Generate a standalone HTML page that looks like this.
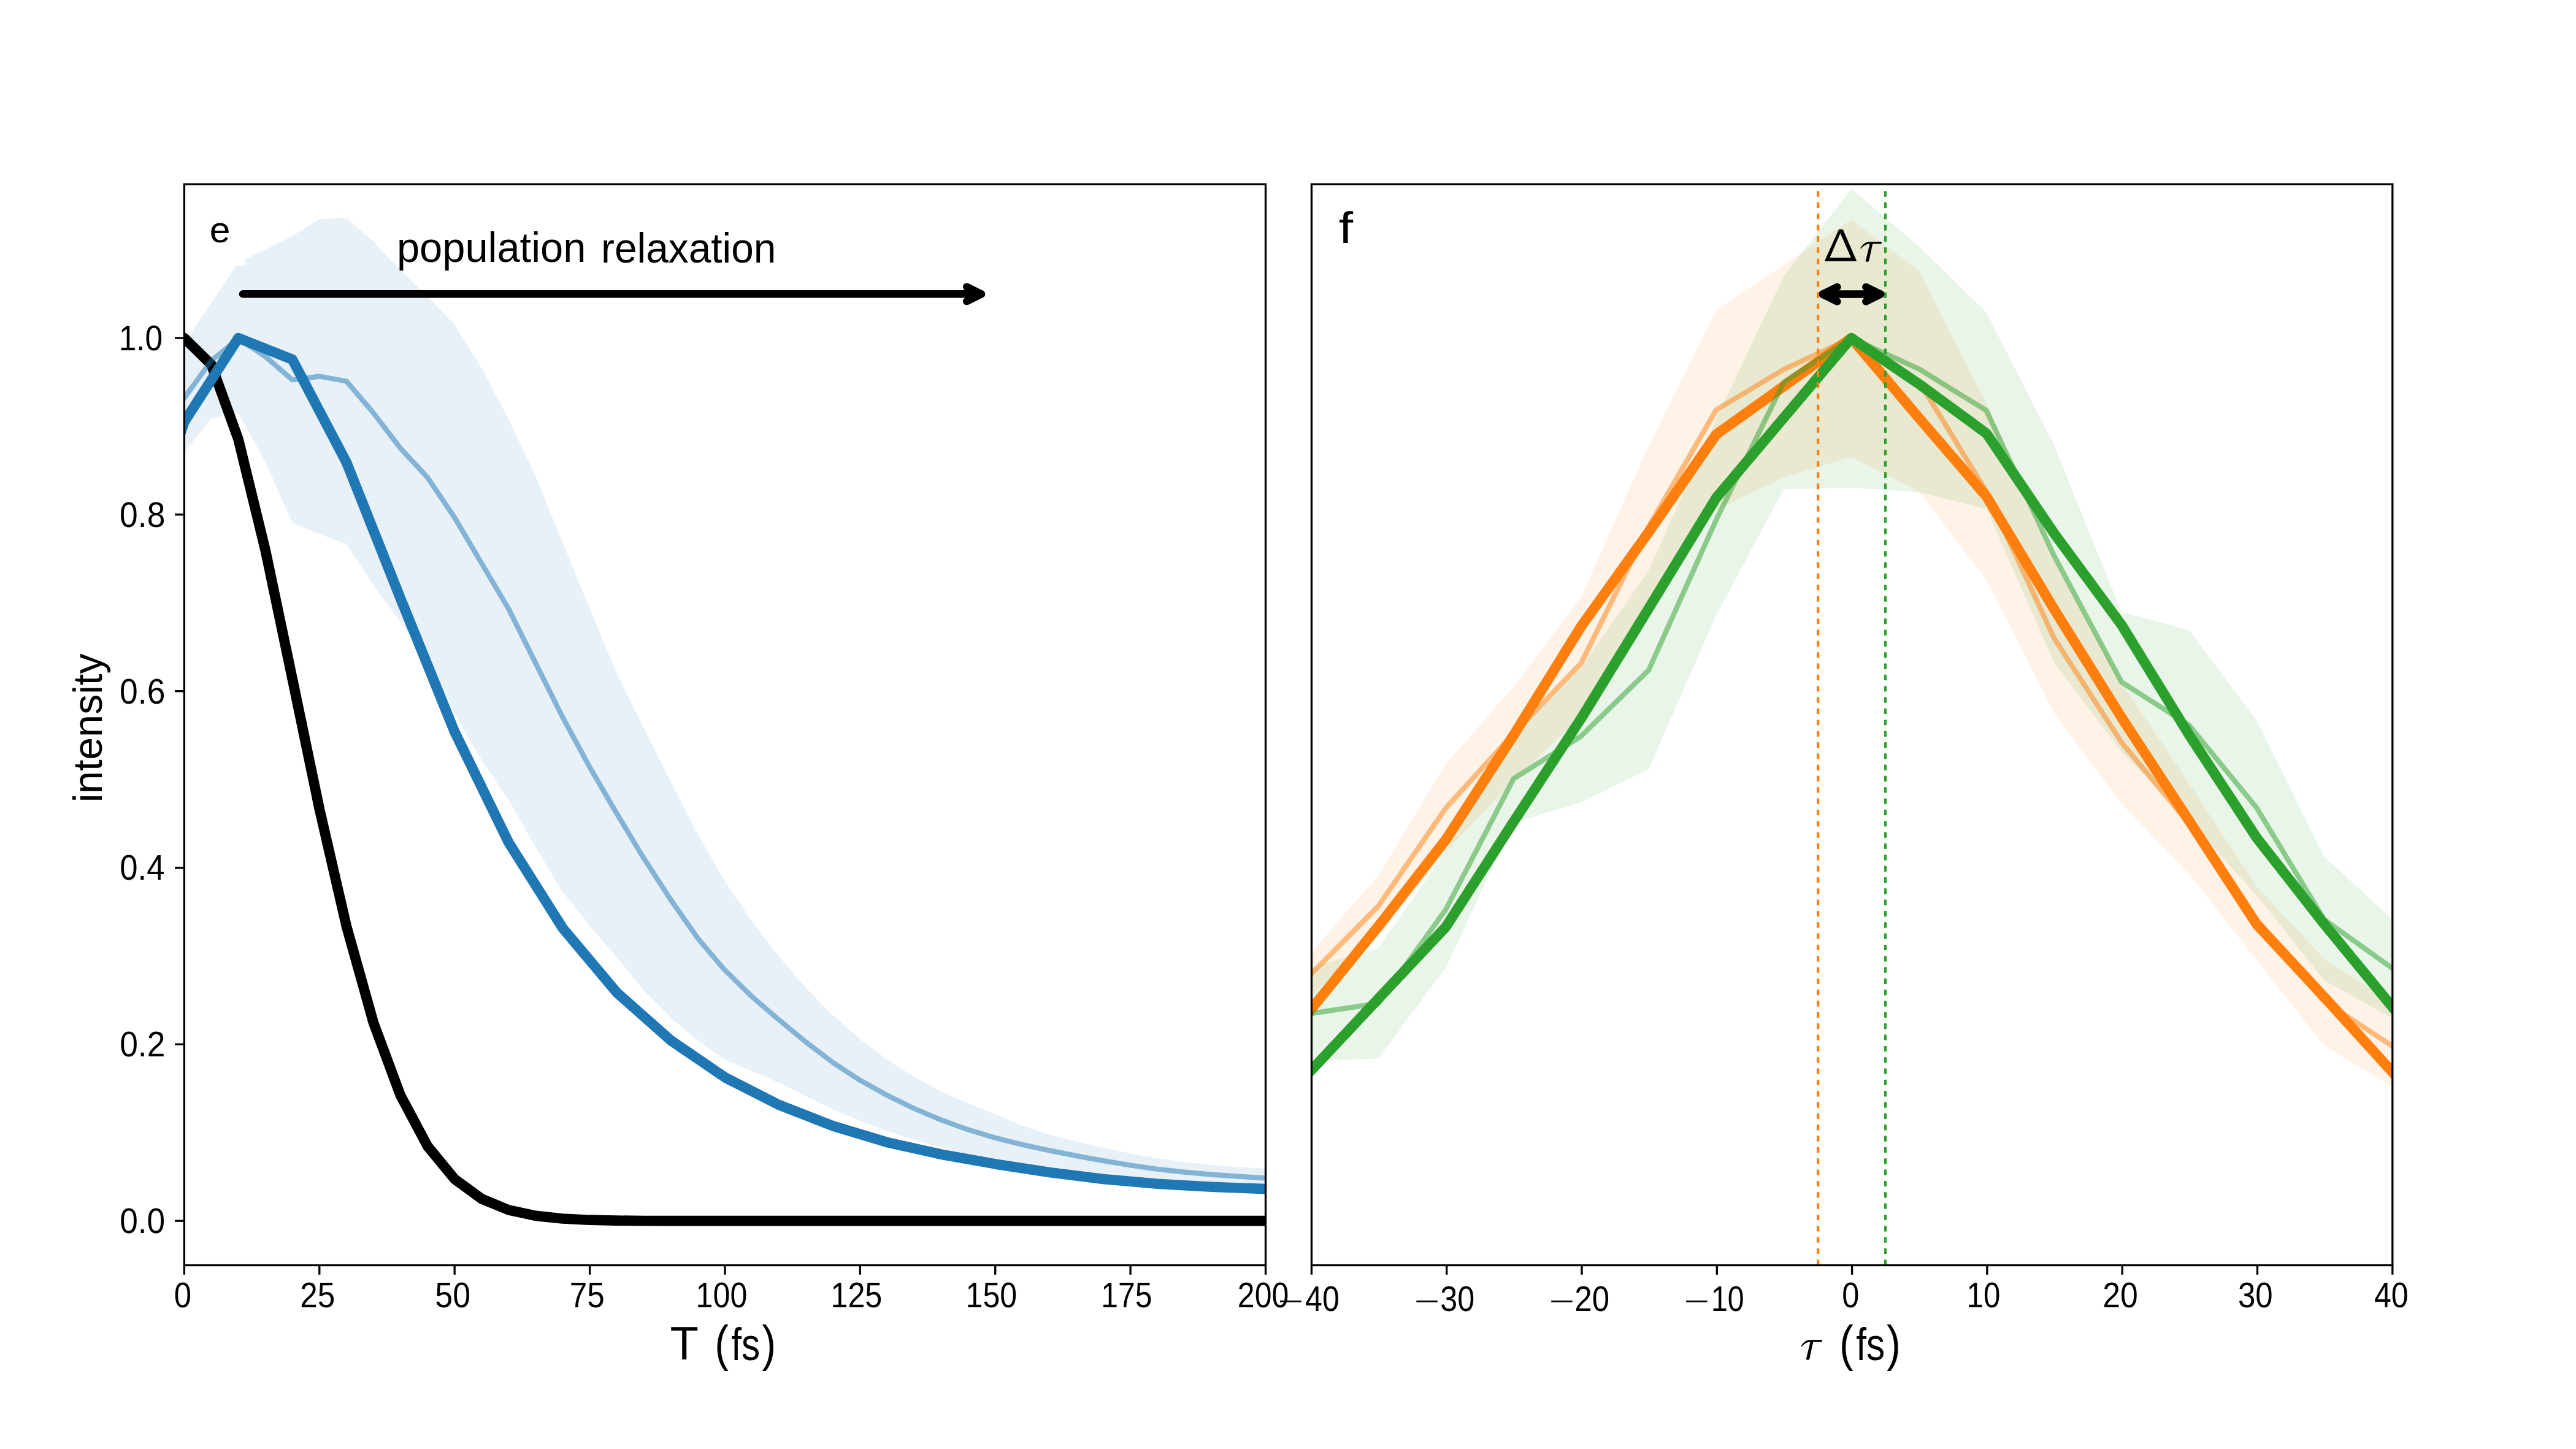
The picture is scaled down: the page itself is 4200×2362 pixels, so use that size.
<!DOCTYPE html>
<html><head><meta charset="utf-8"><title>figure</title>
<style>html,body{margin:0;padding:0;background:#fff;width:4200px;height:2362px}svg{display:block}text{font-family:"Liberation Sans",sans-serif;fill:#000}</style></head><body>
<svg width="4200" height="2362" viewBox="0 0 4200 2362">
<rect x="0" y="0" width="4200" height="2362" fill="#fff"/>
<defs>
<clipPath id="cl"><rect x="300.4" y="300.4" width="1763.1" height="1762.1"/></clipPath>
<clipPath id="cr"><rect x="2138.4" y="300.4" width="1762.4" height="1762.1"/></clipPath>
</defs>
<g clip-path="url(#cl)" fill="none" stroke-linejoin="round" stroke-linecap="square">
<polygon points="300.4,559.0 344.5,493.7 385.4,433.0 398.9,433.0 398.9,692.2 388.6,673.7 344.5,682.2 300.4,737.6" fill="#1f77b4" fill-opacity="0.1" stroke="none"/>
<polygon points="398.9,423.3 432.6,406.7 476.7,384.8 520.8,357.1 564.9,355.4 608.9,393.6 653.0,441.0 697.1,483.0 741.2,529.2 785.3,600.2 829.3,683.5 873.4,777.0 917.5,884.8 961.6,992.7 1005.6,1097.8 1049.7,1187.0 1093.8,1274.8 1137.9,1360.7 1181.9,1436.3 1226.0,1501.6 1270.1,1559.2 1314.2,1610.5 1358.3,1655.3 1402.3,1693.7 1446.4,1727.0 1490.5,1755.2 1534.6,1779.6 1578.6,1798.8 1622.7,1816.0 1666.8,1835.1 1710.9,1849.2 1755.0,1860.7 1799.0,1870.8 1843.1,1880.2 1887.2,1888.0 1931.3,1894.3 1975.3,1898.9 2019.4,1902.2 2063.5,1904.7 2063.5,1936.3 2019.4,1933.2 1975.3,1930.3 1931.3,1926.9 1887.2,1923.6 1843.1,1918.8 1799.0,1913.6 1755.0,1907.7 1710.9,1901.6 1666.8,1896.7 1622.7,1893.0 1578.6,1883.0 1534.6,1870.5 1490.5,1857.7 1446.4,1843.6 1402.3,1827.0 1358.3,1808.5 1314.2,1787.2 1270.1,1765.0 1226.0,1746.3 1181.9,1727.0 1137.9,1696.3 1093.8,1659.1 1049.7,1614.3 1005.6,1560.7 961.6,1509.3 917.5,1454.2 873.4,1381.2 829.3,1304.3 785.3,1238.7 741.2,1164.4 697.1,1073.6 653.0,1013.7 608.9,954.3 564.9,887.0 520.8,870.5 476.7,852.6 432.6,752.7 398.9,692.2" fill="#1f77b4" fill-opacity="0.1" stroke="none"/>
<polyline points="256.3,594.2 300.4,551.0 344.5,594.2 388.6,716.2 432.6,896.4 476.7,1106.6 520.8,1318.6 564.9,1510.0 608.9,1667.1 653.0,1785.7 697.1,1868.4 741.2,1922.0 785.3,1954.2 829.3,1972.4 873.4,1981.9 917.5,1986.5 961.6,1988.7 1005.6,1989.6 1049.7,1990.0 1093.8,1990.1 1137.9,1990.2 1181.9,1990.2 1226.0,1990.2 1270.1,1990.2 1314.2,1990.2 1358.3,1990.2 1402.3,1990.2 1446.4,1990.2 1490.5,1990.2 1534.6,1990.2 1578.6,1990.2 1622.7,1990.2 1666.8,1990.2 1710.9,1990.2 1755.0,1990.2 1799.0,1990.2 1843.1,1990.2 1887.2,1990.2 1931.3,1990.2 1975.3,1990.2 2019.4,1990.2 2063.5,1990.2" stroke="#000" stroke-width="16.67"/>
<polyline points="300.4,648.9 344.5,587.9 388.6,552.0 432.6,581.0 476.7,619.4 520.8,613.5 564.9,621.5 608.9,673.2 653.0,730.9 697.1,778.3 741.2,843.6 785.3,918.4 829.3,992.7 873.4,1081.1 917.5,1169.5 961.6,1250.7 1005.6,1326.1 1049.7,1399.1 1093.8,1467.0 1137.9,1529.8 1181.9,1581.6 1226.0,1624.6 1270.1,1662.5 1314.2,1698.9 1358.3,1732.2 1402.3,1760.9 1446.4,1785.5 1490.5,1807.0 1534.6,1825.7 1578.6,1841.6 1622.7,1854.7 1666.8,1865.9 1710.9,1875.4 1755.0,1884.2 1799.0,1892.2 1843.1,1899.5 1887.2,1905.8 1931.3,1910.6 1975.3,1914.6 2019.4,1917.7 2063.5,1920.5" stroke="#1f77b4" stroke-opacity="0.5" stroke-width="8.33"/>
<polyline points="212.2,954.0 300.4,687.7 388.6,551.0 476.7,586.1 564.9,753.8 653.0,975.6 741.2,1192.9 829.3,1373.4 917.5,1513.0 1005.6,1617.9 1093.8,1696.0 1181.9,1756.2 1270.1,1801.1 1358.3,1835.6 1446.4,1862.1 1534.6,1881.7 1622.7,1897.4 1710.9,1911.0 1799.0,1922.0 1887.2,1929.8 1975.3,1934.8 2063.5,1938.1" stroke="#1f77b4" stroke-width="16.67"/>
</g>
<g clip-path="url(#cr)" fill="none" stroke-linejoin="round" stroke-linecap="square">
<polygon points="2137.2,1553.5 2247.3,1427.0 2357.5,1245.3 2467.7,1119.5 2577.8,973.4 2687.9,727.0 2798.1,505.2 2908.2,431.5 3018.4,358.1 3128.6,441.2 3238.7,657.8 3348.9,910.8 3459.0,1113.0 3569.2,1277.2 3679.3,1445.0 3789.5,1562.9 3899.6,1634.1 3899.6,1771.3 3789.5,1704.7 3679.3,1565.2 3569.2,1424.6 3459.0,1310.6 3348.9,1161.7 3238.7,945.1 3128.6,801.4 3018.4,744.7 2908.2,778.4 2798.1,830.8 2687.9,991.0 2577.8,1168.4 2467.7,1272.0 2357.5,1388.6 2247.3,1526.9 2137.2,1623.2" fill="#ff7f0e" fill-opacity="0.1" stroke="none"/>
<polygon points="2137.2,1577.3 2247.3,1545.5 2357.5,1387.5 2467.7,1197.8 2577.8,1087.4 2687.9,929.9 2798.1,683.4 2908.2,450.1 3018.4,307.8 3128.6,401.6 3238.7,509.3 3348.9,725.1 3459.0,997.7 3569.2,1027.2 3679.3,1174.5 3789.5,1396.4 3899.6,1498.1 3899.6,1658.9 3789.5,1598.4 3679.3,1459.4 3569.2,1337.2 3459.0,1225.7 3348.9,1079.6 3238.7,829.5 3128.6,802.4 3018.4,794.8 2908.2,797.4 2798.1,1002.9 2687.9,1253.9 2577.8,1308.0 2467.7,1341.4 2357.5,1576.9 2247.3,1725.2 2137.2,1730.3" fill="#2ca02c" fill-opacity="0.1" stroke="none"/>
<polyline points="2137.2,1588.4 2247.3,1477.0 2357.5,1316.9 2467.7,1195.8 2577.8,1081.1 2687.9,859.0 2798.1,668.2 2908.2,602.2 3018.4,551.0 3128.6,621.5 3238.7,801.4 3348.9,1040.0 3459.0,1210.3 3569.2,1342.6 3679.3,1505.2 3789.5,1632.3 3899.6,1704.5" stroke="#ff7f0e" stroke-width="8.33" stroke-opacity="0.50"/>
<polyline points="2137.2,1645.9 2247.3,1509.9 2357.5,1368.6 2467.7,1198.6 2577.8,1021.3 2687.9,867.6 2798.1,708.3 2908.2,629.6 3018.4,551.0 3128.6,681.1 3238.7,809.0 3348.9,992.8 3459.0,1169.6 3569.2,1338.0 3679.3,1506.5 3789.5,1625.4 3899.6,1746.4" stroke="#ff7f0e" stroke-width="16.67"/>
<polyline points="2137.2,1652.1 2247.3,1635.6 2357.5,1482.2 2467.7,1269.6 2577.8,1200.1 2687.9,1092.6 2798.1,847.5 2908.2,623.2 3018.4,551.0 3128.6,601.4 3238.7,669.3 3348.9,905.5 3459.0,1111.7 3569.2,1182.2 3679.3,1316.9 3789.5,1498.9 3899.6,1577.7" stroke="#2ca02c" stroke-width="8.33" stroke-opacity="0.50"/>
<polyline points="2137.2,1745.5 2247.3,1628.0 2357.5,1510.7 2467.7,1339.7 2577.8,1171.3 2687.9,992.0 2798.1,811.5 2908.2,681.2 3018.4,551.0 3128.6,625.8 3238.7,706.4 3348.9,869.1 3459.0,1018.6 3569.2,1197.9 3679.3,1365.6 3789.5,1506.3 3899.6,1640.3" stroke="#2ca02c" stroke-width="16.67"/>
<line x1="2964.1" y1="2062.4" x2="2964.1" y2="311.5" stroke="#ff7f0e" stroke-width="4.17" stroke-dasharray="9.167 9.167" stroke-linecap="butt"/>
<line x1="3074.0" y1="2062.4" x2="3074.0" y2="311.5" stroke="#2ca02c" stroke-width="4.17" stroke-dasharray="9.167 9.167" stroke-linecap="butt"/>
</g>
<g fill="none" stroke="#000" stroke-width="3.33" stroke-linecap="square">
<rect x="300.4" y="300.4" width="1763.1" height="1762.1"/>
<rect x="2138.4" y="300.4" width="1762.4" height="1762.1"/>
</g>
<g fill="none" stroke="#000" stroke-width="3.33" stroke-linecap="butt">
<line x1="300.40" y1="2062.50" x2="300.40" y2="2077.80"/>
<line x1="520.79" y1="2062.50" x2="520.79" y2="2077.80"/>
<line x1="741.17" y1="2062.50" x2="741.17" y2="2077.80"/>
<line x1="961.56" y1="2062.50" x2="961.56" y2="2077.80"/>
<line x1="1181.95" y1="2062.50" x2="1181.95" y2="2077.80"/>
<line x1="1402.34" y1="2062.50" x2="1402.34" y2="2077.80"/>
<line x1="1622.72" y1="2062.50" x2="1622.72" y2="2077.80"/>
<line x1="1843.11" y1="2062.50" x2="1843.11" y2="2077.80"/>
<line x1="2063.50" y1="2062.50" x2="2063.50" y2="2077.80"/>
<line x1="285.10" y1="1990.20" x2="300.40" y2="1990.20"/>
<line x1="285.10" y1="1702.36" x2="300.40" y2="1702.36"/>
<line x1="285.10" y1="1414.52" x2="300.40" y2="1414.52"/>
<line x1="285.10" y1="1126.68" x2="300.40" y2="1126.68"/>
<line x1="285.10" y1="838.84" x2="300.40" y2="838.84"/>
<line x1="285.10" y1="551.00" x2="300.40" y2="551.00"/>
<line x1="2138.40" y1="2062.50" x2="2138.40" y2="2077.80"/>
<line x1="2358.70" y1="2062.50" x2="2358.70" y2="2077.80"/>
<line x1="2579.00" y1="2062.50" x2="2579.00" y2="2077.80"/>
<line x1="2799.30" y1="2062.50" x2="2799.30" y2="2077.80"/>
<line x1="3019.60" y1="2062.50" x2="3019.60" y2="2077.80"/>
<line x1="3239.90" y1="2062.50" x2="3239.90" y2="2077.80"/>
<line x1="3460.20" y1="2062.50" x2="3460.20" y2="2077.80"/>
<line x1="3680.50" y1="2062.50" x2="3680.50" y2="2077.80"/>
<line x1="3900.80" y1="2062.50" x2="3900.80" y2="2077.80"/>
</g>
<g fill="none" stroke="#000" stroke-width="12.5" stroke-linecap="round" stroke-linejoin="round">
<path d="M396.0,479.3 L1599.9,479.3"/>
<path d="M1576.2,467.6 L1599.9,479.3 L1576.2,491.1"/>
<path d="M2971.7,479.6 L3066.1,479.6"/>
<path d="M3042.4,467.9 L3066.1,479.6 L3042.4,491.4"/>
<path d="M2995.4,467.9 L2971.7,479.6 L2995.4,491.4"/>
</g>
<g fill="#000">
<text transform="translate(195.15,2010.14) scale(0.9185,0.9942)" font-family="Liberation Sans" font-style="normal" font-size="58">0.0</text>
<text transform="translate(195.16,1722.30) scale(0.9211,0.9942)" font-family="Liberation Sans" font-style="normal" font-size="58">0.2</text>
<text transform="translate(195.17,1434.46) scale(0.9091,0.9942)" font-family="Liberation Sans" font-style="normal" font-size="58">0.4</text>
<text transform="translate(195.12,1146.62) scale(0.9211,0.9942)" font-family="Liberation Sans" font-style="normal" font-size="58">0.6</text>
<text transform="translate(195.12,858.78) scale(0.9211,0.9942)" font-family="Liberation Sans" font-style="normal" font-size="58">0.8</text>
<text transform="translate(193.64,570.94) scale(0.8880,0.9942)" font-family="Liberation Sans" font-style="normal" font-size="58">1.0</text>
<text transform="translate(283.78,2131.44) scale(0.8786,0.9942)" font-family="Liberation Sans" font-style="normal" font-size="58">0</text>
<text transform="translate(489.18,2131.44) scale(0.8829,0.9942)" font-family="Liberation Sans" font-style="normal" font-size="58">25</text>
<text transform="translate(709.34,2131.44) scale(0.8941,0.9942)" font-family="Liberation Sans" font-style="normal" font-size="58">50</text>
<text transform="translate(928.82,2131.44) scale(0.8819,0.9942)" font-family="Liberation Sans" font-style="normal" font-size="58">75</text>
<text transform="translate(1134.58,2131.44) scale(0.8657,0.9942)" font-family="Liberation Sans" font-style="normal" font-size="58">100</text>
<text transform="translate(1354.43,2131.44) scale(0.8672,0.9942)" font-family="Liberation Sans" font-style="normal" font-size="58">125</text>
<text transform="translate(1574.54,2131.44) scale(0.8646,0.9942)" font-family="Liberation Sans" font-style="normal" font-size="58">150</text>
<text transform="translate(1795.36,2131.44) scale(0.8594,0.9942)" font-family="Liberation Sans" font-style="normal" font-size="58">175</text>
<text transform="translate(2017.87,2131.44) scale(0.8620,0.9942)" font-family="Liberation Sans" font-style="normal" font-size="58">200</text>
<text transform="translate(3003.27,2131.44) scale(0.8714,0.9942)" font-family="Liberation Sans" font-style="normal" font-size="58">0</text>
<text transform="translate(3206.62,2131.44) scale(0.8504,0.9942)" font-family="Liberation Sans" font-style="normal" font-size="58">10</text>
<text transform="translate(3428.34,2131.44) scale(0.8923,0.9942)" font-family="Liberation Sans" font-style="normal" font-size="58">20</text>
<text transform="translate(3648.99,2131.44) scale(0.8786,0.9942)" font-family="Liberation Sans" font-style="normal" font-size="58">30</text>
<text transform="translate(3870.89,2131.44) scale(0.8643,0.9942)" font-family="Liberation Sans" font-style="normal" font-size="58">40</text>
<text transform="translate(2128.09,2136.74) scale(0.8643,0.9942)" font-family="Liberation Sans" font-style="normal" font-size="58">40</text>
<text transform="translate(2348.25,2136.74) scale(0.8670,0.9942)" font-family="Liberation Sans" font-style="normal" font-size="58">30</text>
<text transform="translate(2567.34,2136.74) scale(0.8788,0.9942)" font-family="Liberation Sans" font-style="normal" font-size="58">20</text>
<text transform="translate(2789.95,2136.74) scale(0.8332,0.9942)" font-family="Liberation Sans" font-style="normal" font-size="58">10</text>
<text transform="translate(1092.59,2216.40) scale(1.0141,1.0157)" font-family="Liberation Sans" font-style="normal" font-size="75">T</text>
<text transform="translate(1165.18,2218.07) scale(0.9135,1.0855)" font-family="Liberation Sans" font-style="normal" font-size="75">(</text>
<text transform="translate(1192.30,2216.68) scale(0.8036,0.9763)" font-family="Liberation Sans" font-style="normal" font-size="75">fs</text>
<text transform="translate(1242.25,2218.07) scale(0.9182,1.0855)" font-family="Liberation Sans" font-style="normal" font-size="75">)</text>
<text transform="translate(2998.98,2218.07) scale(0.9135,1.0855)" font-family="Liberation Sans" font-style="normal" font-size="75">(</text>
<text transform="translate(3026.17,2216.68) scale(0.8036,0.9763)" font-family="Liberation Sans" font-style="normal" font-size="75">fs</text>
<text transform="translate(3076.05,2218.07) scale(0.9182,1.0855)" font-family="Liberation Sans" font-style="normal" font-size="75">)</text>
<text transform="translate(166.48,1308.37) rotate(-90) scale(0.8829,0.8787)" font-family="Liberation Sans" font-style="normal" font-size="75">intensity</text>
<text transform="translate(341.87,394.99) scale(0.8087,0.7990)" font-family="Liberation Sans" font-style="normal" font-size="75">e</text>
<text transform="translate(2182.81,396.45) scale(1.1200,0.9759)" font-family="Liberation Sans" font-style="normal" font-size="75">f</text>
<text transform="translate(646.96,426.81) scale(0.8910,0.9019)" font-family="Liberation Sans" font-style="normal" font-size="75">population</text>
<text transform="translate(980.06,427.82) scale(0.8775,0.9195)" font-family="Liberation Sans" font-style="normal" font-size="75">relaxation</text>
</g>
<g stroke="#000" stroke-width="2.7" stroke-linecap="butt">
<line x1="2087.0" y1="2121.3" x2="2121.8" y2="2121.3"/>
<line x1="2309.3" y1="2121.3" x2="2343.8" y2="2121.3"/>
<line x1="2529.2" y1="2121.3" x2="2563.7" y2="2121.3"/>
<line x1="2749.1" y1="2121.3" x2="2783.6" y2="2121.3"/>
</g>
<path fill="#000" fill-rule="evenodd" d="M2974.8,425.7 L2998.1,374.1 L3004.7,374.1 L3027.3,425.7 Z M2983.4,419.9 L3017.9,419.9 L3000.5,380.3 Z"/>
<path fill="#000" transform="translate(3032.9,393.9)" d="M0,10.9 C2.5,7 5.5,3.5 8.7,1.9 C10.5,0.9 12.3,0.4 14.1,0.4 L33.5,0.15 C35.6,0.15 35.6,3.65 33.5,3.65 L20.3,3.65 L14.5,30.7 C14,33.8 9,34 9.1,30.7 L15.7,3.65 C13.5,3.65 12.3,3.8 11.0,4.3 C8.6,5.2 6.8,6.4 5.6,7.4 C3.8,8.9 2.2,10.6 0.9,11.4 Z"/>
<path fill="#000" transform="translate(2935.9,2183.9)" d="M0,10.9 C2.5,7 5.5,3.5 8.7,1.9 C10.5,0.9 12.3,0.4 14.1,0.4 L33.5,0.15 C35.6,0.15 35.6,3.65 33.5,3.65 L20.3,3.65 L14.5,30.7 C14,33.8 9,34 9.1,30.7 L15.7,3.65 C13.5,3.65 12.3,3.8 11.0,4.3 C8.6,5.2 6.8,6.4 5.6,7.4 C3.8,8.9 2.2,10.6 0.9,11.4 Z"/>
</svg></body></html>
